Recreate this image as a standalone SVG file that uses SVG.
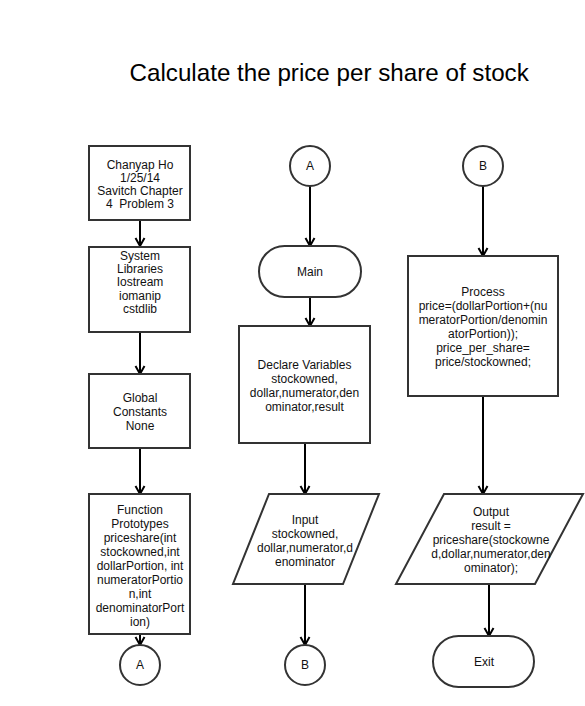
<svg xmlns="http://www.w3.org/2000/svg" width="585" height="706" viewBox="0 0 585 706">
<style>
  .shape{fill:#fff;stroke:#333;stroke-width:2}
  .lbl{font-family:"Liberation Sans",Arial,Helvetica,sans-serif;font-size:12px;fill:#111;text-anchor:middle;white-space:pre}
  .title{font-family:"Liberation Sans",Arial,Helvetica,sans-serif;font-size:24.2px;fill:#000}
  .conn{fill:none;stroke:#000;stroke-width:2;marker-end:url(#arr)}
</style>
<defs>
  <marker id="arr" viewBox="0 0 10 10" refX="9.5" refY="5" markerWidth="10" markerHeight="10" markerUnits="userSpaceOnUse" orient="auto" overflow="visible">
    <path d="M1.5,0.5 L9.5,5 L1.5,9.5" fill="none" stroke="#000" stroke-width="2"/>
  </marker>
</defs>
<rect width="585" height="706" fill="#fff"/>
<text class="title" x="129.5" y="81">Calculate the price per share of stock</text>

<g id="connectors">
  <line class="conn" x1="140" y1="220" x2="140" y2="246"/>
  <line class="conn" x1="140" y1="332" x2="140" y2="374"/>
  <line class="conn" x1="140" y1="448" x2="140" y2="494"/>
  <line class="conn" x1="140" y1="634" x2="140" y2="645"/>
  <line class="conn" x1="310" y1="186" x2="310" y2="246"/>
  <line class="conn" x1="310" y1="297" x2="310" y2="326"/>
  <line class="conn" x1="305" y1="443" x2="305" y2="494"/>
  <line class="conn" x1="305" y1="584" x2="305" y2="645"/>
  <line class="conn" x1="483" y1="186" x2="483" y2="256"/>
  <line class="conn" x1="483" y1="396" x2="483" y2="494"/>
  <line class="conn" x1="489" y1="584" x2="489" y2="636"/>
</g>

<g id="n-header">
  <rect class="shape" x="89" y="146" width="101" height="74"/>
  <text class="lbl"><tspan x="140" y="169">Chanyap Ho</tspan><tspan x="140" y="182">1/25/14</tspan><tspan x="140" y="195">Savitch Chapter</tspan><tspan x="140" y="208" xml:space="preserve">4  Problem 3</tspan></text>
</g>
<g id="n-libraries">
  <rect class="shape" x="89" y="247" width="101" height="85"/>
  <text class="lbl"><tspan x="140" y="259.5">System</tspan><tspan x="140" y="273">Libraries</tspan><tspan x="140" y="286">Iostream</tspan><tspan x="140" y="299.5">iomanip</tspan><tspan x="140" y="313">cstdlib</tspan></text>
</g>
<g id="n-constants">
  <rect class="shape" x="89" y="374" width="101" height="74"/>
  <text class="lbl"><tspan x="140" y="401.5">Global</tspan><tspan x="140" y="415.5">Constants</tspan><tspan x="140" y="429.5">None</tspan></text>
</g>
<g id="n-prototypes">
  <rect class="shape" x="89" y="494" width="101" height="140"/>
  <text class="lbl"><tspan x="140" y="513.5">Function</tspan><tspan x="140" y="527.5">Prototypes</tspan><tspan x="140" y="541.5">priceshare(int</tspan><tspan x="140" y="555.5">stockowned,int</tspan><tspan x="140" y="569.5">dollarPortion, int</tspan><tspan x="140" y="583.5">numeratorPortio</tspan><tspan x="140" y="597.5">n,int</tspan><tspan x="140" y="611.5">denominatorPort</tspan><tspan x="140" y="625.5">ion)</tspan></text>
</g>
<g id="n-connA-out">
  <circle class="shape" cx="140" cy="665" r="20"/>
  <text class="lbl" x="140" y="669">A</text>
</g>

<g id="n-connA-in">
  <circle class="shape" cx="310" cy="166" r="20"/>
  <text class="lbl" x="310" y="170">A</text>
</g>
<g id="n-main">
  <rect class="shape" x="259" y="246" width="102" height="51" rx="25.5" ry="25.5"/>
  <text class="lbl" x="310" y="276">Main</text>
</g>
<g id="n-declare">
  <rect class="shape" x="239" y="326" width="131" height="117"/>
  <text class="lbl"><tspan x="304.5" y="368.5">Declare Variables</tspan><tspan x="304.5" y="382.5">stockowned,</tspan><tspan x="304.5" y="396.5">dollar,numerator,den</tspan><tspan x="304.5" y="410.5">ominator,result</tspan></text>
</g>
<g id="n-input">
  <polygon class="shape" points="269,494 379,494 343,584 233,584"/>
  <text class="lbl"><tspan x="305" y="524">Input</tspan><tspan x="305" y="538">stockowned,</tspan><tspan x="305" y="552">dollar,numerator,d</tspan><tspan x="305" y="566">enominator</tspan></text>
</g>
<g id="n-connB-out">
  <circle class="shape" cx="305" cy="665" r="20"/>
  <text class="lbl" x="305" y="669">B</text>
</g>

<g id="n-connB-in">
  <circle class="shape" cx="483" cy="166" r="20"/>
  <text class="lbl" x="483" y="170">B</text>
</g>
<g id="n-process">
  <rect class="shape" x="408" y="256" width="150" height="140"/>
  <text class="lbl"><tspan x="483" y="295.5">Process</tspan><tspan x="483" y="309.5">price=(dollarPortion+(nu</tspan><tspan x="483" y="323.5">meratorPortion/denomin</tspan><tspan x="483" y="337.5">atorPortion));</tspan><tspan x="483" y="351.5">price_per_share=</tspan><tspan x="483" y="365.5">price/stockowned;</tspan></text>
</g>
<g id="n-output">
  <polygon class="shape" points="444,494 583,494 535,584 396,584"/>
  <text class="lbl"><tspan x="491" y="516">Output</tspan><tspan x="491" y="530">result =</tspan><tspan x="491" y="544">priceshare(stockowne</tspan><tspan x="491" y="558">d,dollar,numerator,den</tspan><tspan x="491" y="572">ominator);</tspan></text>
</g>
<g id="n-exit">
  <rect class="shape" x="433" y="636" width="101" height="51" rx="25.5" ry="25.5"/>
  <text class="lbl" x="484" y="666">Exit</text>
</g>
</svg>
